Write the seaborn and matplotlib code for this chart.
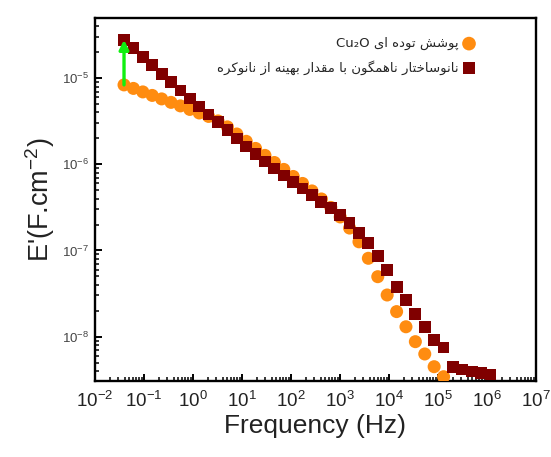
import matplotlib
matplotlib.use("Agg")
import matplotlib.pyplot as plt
import seaborn as sns
import pandas as pd
from matplotlib.ticker import LogLocator

# ---------------- data ----------------
frequency = [0.0391, 0.0608, 0.0946, 0.147, 0.229, 0.356, 0.553, 0.861, 1.34, 2.08,
             3.24, 5.04, 7.83, 12.2, 18.9, 29.4, 45.8, 71.3, 111, 172,
             268, 417, 649, 1010, 1570, 2440, 3790, 5900, 9170, 14300,
             22200, 34500, 53700, 83400, 130000, 202000, 314000, 489000, 760000, 1180000]

nano_values = [2.79e-5, 2.22e-5, 1.77e-5, 1.41e-5, 1.12e-5, 8.94e-6, 7.21e-6, 5.82e-6, 4.70e-6, 3.80e-6,
               3.07e-6, 2.48e-6, 2.00e-6, 1.61e-6, 1.32e-6, 1.08e-6, 8.96e-7, 7.43e-7, 6.25e-7, 5.25e-7,
               4.41e-7, 3.66e-7, 3.08e-7, 2.58e-7, 2.09e-7, 1.60e-7, 1.21e-7, 8.63e-8, 5.93e-8, 3.80e-8,
               2.66e-8, 1.83e-8, 1.28e-8, 9.13e-9, 7.47e-9, 4.47e-9, 4.15e-9, 3.93e-9, 3.78e-9, 3.63e-9]

bulk_values = [8.36e-6, 7.61e-6, 6.93e-6, 6.31e-6, 5.75e-6, 5.24e-6, 4.77e-6, 4.34e-6, 3.95e-6, 3.60e-6,
               3.19e-6, 2.72e-6, 2.25e-6, 1.85e-6, 1.53e-6, 1.27e-6, 1.05e-6, 8.73e-7, 7.23e-7, 6.00e-7,
               4.91e-7, 3.96e-7, 3.16e-7, 2.45e-7, 1.82e-7, 1.26e-7, 8.11e-8, 4.96e-8, 3.04e-8, 1.95e-8,
               1.30e-8, 8.73e-9, 6.28e-9, 4.47e-9, 3.42e-9]

series_names = ["پوشش توده ای Cu₂O",
                "نانوساختار ناهمگون با مقدار بهینه از نانوکره"]

x_label = "Frequency (Hz)"
y_label = "E'(F.cm$^{-2}$)"

# ------------- Persian shaping (matplotlib has no complex text layout) -------------
FORMS = {
    'ا': (0xFE8D, 0xFE8E, None, None), 'ب': (0xFE8F, 0xFE90, 0xFE91, 0xFE92),
    'پ': (0xFB56, 0xFB57, 0xFB58, 0xFB59), 'ت': (0xFE95, 0xFE96, 0xFE97, 0xFE98),
    'خ': (0xFEA5, 0xFEA6, 0xFEA7, 0xFEA8), 'د': (0xFEA9, 0xFEAA, None, None),
    'ر': (0xFEAD, 0xFEAE, None, None), 'ز': (0xFEAF, 0xFEB0, None, None),
    'س': (0xFEB1, 0xFEB2, 0xFEB3, 0xFEB4), 'ش': (0xFEB5, 0xFEB6, 0xFEB7, 0xFEB8),
    'ق': (0xFED5, 0xFED6, 0xFED7, 0xFED8), 'ک': (0xFB8E, 0xFB8F, 0xFB90, 0xFB91),
    'گ': (0xFB92, 0xFB93, 0xFB94, 0xFB95), 'م': (0xFEE1, 0xFEE2, 0xFEE3, 0xFEE4),
    'ن': (0xFEE5, 0xFEE6, 0xFEE7, 0xFEE8), 'ه': (0xFEE9, 0xFEEA, 0xFEEB, 0xFEEC),
    'و': (0xFEED, 0xFEEE, None, None), 'ی': (0xFBFC, 0xFBFD, 0xFBFE, 0xFBFF),
}


def shape_word(w):
    out = []
    for i, c in enumerate(w):
        if c not in FORMS:
            out.append(c)
            continue
        prev = w[i - 1] if i > 0 else ''
        nxt = w[i + 1] if i + 1 < len(w) else ''
        jp = prev in FORMS and FORMS[prev][2] is not None
        jn = FORMS[c][2] is not None and nxt in FORMS
        iso, fin, ini, med = FORMS[c]
        if jp and jn:
            code = med
        elif jp:
            code = fin
        elif jn:
            code = ini
        else:
            code = iso
        out.append(chr(code))
    return ''.join(out)[::-1]


def visual(s):
    words = s.split(' ')
    res = []
    for w in reversed(words):
        if any(ch in FORMS for ch in w):
            res.append(shape_word(w))
        else:
            res.append(w)
    return ' '.join(res)


# ---------------- frames ----------------
df_bulk = pd.DataFrame({"f": frequency[:len(bulk_values)], "v": bulk_values})
df_nano = pd.DataFrame({"f": frequency, "v": nano_values})

sns.set_style("white")
plt.rcParams['font.family'] = ['Liberation Sans', 'DejaVu Sans']
plt.rcParams['mathtext.fontset'] = 'custom'
plt.rcParams['mathtext.rm'] = 'Liberation Sans'
plt.rcParams['mathtext.it'] = 'Liberation Sans:italic'

fig = plt.figure(figsize=(5.51, 4.57), dpi=100)
ax = fig.add_axes([95 / 551, 1 - 381 / 457, (536 - 95) / 551, (381 - 18) / 457])

orange = '#FF8C10'
darkred = '#800000'

sns.scatterplot(data=df_bulk, x="f", y="v", ax=ax, marker='o', s=88, color=orange,
                edgecolor='none', linewidth=0, zorder=3, label=visual(series_names[0]))
sns.scatterplot(data=df_nano, x="f", y="v", ax=ax, marker='s', s=72, color=darkred,
                edgecolor='none', linewidth=0, zorder=4, label=visual(series_names[1]))

ax.set_xscale('log')
ax.set_yscale('log')
ax.set_xlim(1e-2, 1e7)
ax.set_ylim(3.05e-9, 5.0e-5)

ax.annotate('', xy=(frequency[0], nano_values[0]), xytext=(frequency[0], bulk_values[0]),
            arrowprops=dict(arrowstyle='-|>', color='#10F010', lw=2.4, mutation_scale=14,
                            shrinkA=0, shrinkB=0), zorder=5)

for sp in ax.spines.values():
    sp.set_linewidth(1.7)
    sp.set_color('black')

ax.xaxis.set_major_locator(LogLocator(base=10, numticks=20))
ax.xaxis.set_minor_locator(LogLocator(base=10, subs=range(2, 10), numticks=100))
ax.yaxis.set_major_locator(LogLocator(base=10, numticks=20))
ax.yaxis.set_minor_locator(LogLocator(base=10, subs=range(2, 10), numticks=100))

ax.tick_params(axis='both', which='major', direction='in', length=5, width=1.4,
               bottom=True, left=True, top=False, right=False, color='black')
ax.tick_params(axis='both', which='minor', direction='in', length=3, width=1.1,
               bottom=True, left=True, top=False, right=False, color='black')
ax.tick_params(axis='x', which='major', labelsize=13.5, pad=7, labelcolor='#222222')
ax.tick_params(axis='y', which='major', labelsize=9.5, pad=4, labelcolor='#444444')

ax.set_xlabel(x_label, fontsize=19, labelpad=2, color='#222222')
ax.set_ylabel(y_label, fontsize=19.5, labelpad=4, color='#222222')

leg = ax.legend(loc='upper right', bbox_to_anchor=(0.875, 0.962), frameon=False,
                markerfirst=False, prop={'family': ['DejaVu Sans'], 'size': 9.5},
                labelspacing=0.75, handletextpad=0.3, borderaxespad=0.0,
                handlelength=1.0, markerscale=1.05)

fig.savefig('out.png', dpi=100, facecolor='white')
